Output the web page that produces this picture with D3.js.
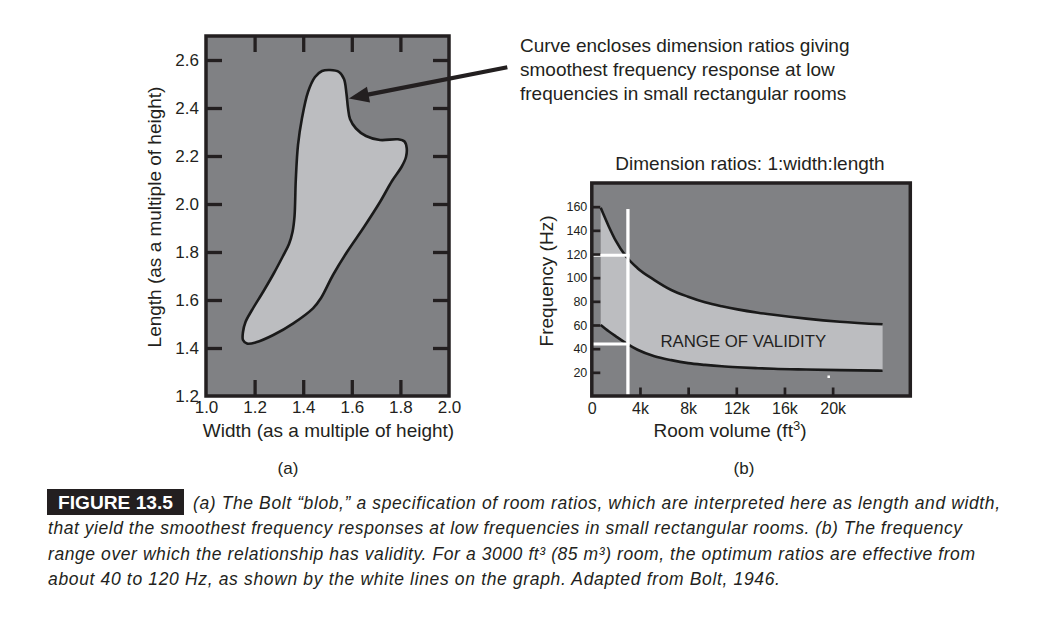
<!DOCTYPE html>
<html><head><meta charset="utf-8">
<script src="https://cdn.jsdelivr.net/npm/d3@7/dist/d3.min.js"></script>
<style>
html,body{margin:0;padding:0;background:#fff}
svg{display:block}
text{font-family:"Liberation Sans",Arial,Helvetica,sans-serif;fill:#231f20}
</style></head><body>
<svg id="chart" width="1059" height="629"></svg>
<script>
// ---------- Panel (a): Bolt blob (width, length as multiples of height) ----------
const blobWidth  = [1.5103,1.5473,1.5679,1.5782,1.5844,1.5926,1.6173,1.6584,1.7160,1.7901,1.8169,1.8259,1.8230,1.8045,1.7654,1.7160,1.6502,1.5802,1.5226,1.4733,1.4403,1.3593,1.2770,1.2058,1.1687,1.1523,1.1523,1.1626,1.1893,1.2346,1.2798,1.3169,1.3416,1.3560,1.3642,1.3695,1.3786,1.3951,1.4198,1.4486,1.4774];
const blobLength = [2.5583,2.5500,2.5208,2.4583,2.4000,2.3542,2.3146,2.2833,2.2667,2.2696,2.2604,2.2333,2.1958,2.1542,2.0958,2.0083,1.9042,1.8000,1.7042,1.6083,1.5654,1.5029,1.4542,1.4238,1.4188,1.4333,1.4667,1.5083,1.5583,1.6333,1.7125,1.7833,1.8333,1.8833,1.9471,2.1000,2.2458,2.3583,2.4667,2.5292,2.5542];
const aXTicks = [1.0,1.2,1.4,1.6,1.8,2.0];
const aYTicks = [1.2,1.4,1.6,1.8,2.0,2.2,2.4,2.6];
const aInnerX = [1.2,1.4,1.6,1.8];
const aInnerY = [1.4,1.6,1.8,2.0,2.2,2.4,2.6];
const aNote = ["Curve encloses dimension ratios giving","smoothest frequency response at low","frequencies in small rectangular rooms"];

// ---------- Panel (b): range of validity ----------
const volumeFt3 = [740,1400,2000,2800,3800,5200,6600,8000,9400,10800,12100,13800,15100,17800,20600,24150];
const upperHz   = [159,143.5,131,118.5,108,98,89.6,83.9,79.2,75.8,73.2,70.4,68.6,65.4,62.8,60.6];
const lowerHz   = [60,54.7,50.4,44.9,39.1,33.6,30.3,27.8,26.3,25.1,24.3,23.5,23.0,22.4,21.9,21.4];
const markVolume = 3000;
const markHz = [44,119];
const markTopHz = 158;
const bXTicks = [0,4000,8000,12000,16000,20000];
const bXLabels = ["0","4k","8k","12k","16k","20k"];
const bYTicks = [20,40,60,80,100,120,140,160];

const captionLines = [
  "(a) The Bolt \u201Cblob,\u201D a specification of room ratios, which are interpreted here as length and width,",
  "that yield the smoothest frequency responses at low frequencies in small rectangular rooms. (b) The frequency",
  "range over which the relationship has validity. For a 3000 ft\u00B3 (85 m\u00B3) room, the optimum ratios are effective from",
  "about 40 to 120 Hz, as shown by the white lines on the graph. Adapted from Bolt, 1946."
];

const ink = "#231f20", bg = "#808184", light = "#bcbdc0";
const FONT = '"Liberation Sans",Arial,Helvetica,sans-serif';
const svg = d3.select("#chart");

// ===== Panel (a) =====
const xa = d3.scaleLinear().domain([1.0,2.0]).range([206,449]);
const ya = d3.scaleLinear().domain([1.2,2.7]).range([396,36]);
const ga = svg.append("g");
ga.append("rect").attr("x",xa(1)).attr("y",ya(2.7))
  .attr("width",xa(2)-xa(1)).attr("height",ya(1.2)-ya(2.7)).attr("fill",bg);

const blobPts = blobWidth.map((w,i)=>[xa(w), ya(blobLength[i])]);
ga.append("path").attr("d", d3.line().curve(d3.curveCatmullRomClosed.alpha(0.5))(blobPts))
  .attr("fill",light).attr("stroke","#1a1a1a").attr("stroke-width",2.6);

function styleAxis(g, fs, sw){
  g.attr("font-size",fs).attr("font-family",FONT).attr("color",ink);
  g.select(".domain").remove();
  g.selectAll(".tick line").attr("stroke",ink).attr("stroke-width",sw);
  g.selectAll(".tick text").attr("fill",ink);
}
// left
const aLeft = ga.append("g").attr("transform",`translate(${xa(1)},0)`)
  .call(d3.axisLeft(ya).tickValues(aYTicks).tickFormat(d3.format(".1f")).tickSizeInner(-16).tickSizeOuter(0).tickPadding(7));
styleAxis(aLeft,17,3.3);
aLeft.selectAll(".tick line").filter(d=>!aInnerY.includes(d)).remove();
// right
const aRight = ga.append("g").attr("transform",`translate(${xa(2)},0)`)
  .call(d3.axisRight(ya).tickValues(aInnerY).tickFormat("").tickSizeInner(-16).tickSizeOuter(0));
styleAxis(aRight,17,3.3);
// top
const aTop = ga.append("g").attr("transform",`translate(0,${ya(2.7)})`)
  .call(d3.axisTop(xa).tickValues(aInnerX).tickFormat("").tickSizeInner(-16).tickSizeOuter(0));
styleAxis(aTop,17,3.3);
// bottom
const aBottom = ga.append("g").attr("transform",`translate(0,${ya(1.2)})`)
  .call(d3.axisBottom(xa).tickValues(aXTicks).tickFormat(d3.format(".1f")).tickSizeInner(-16).tickSizeOuter(0).tickPadding(5));
styleAxis(aBottom,17,3.3);
aBottom.selectAll(".tick line").filter(d=>!aInnerX.includes(d)).remove();

ga.append("rect").attr("x",xa(1)).attr("y",ya(2.7))
  .attr("width",xa(2)-xa(1)).attr("height",ya(1.2)-ya(2.7))
  .attr("fill","none").attr("stroke",ink).attr("stroke-width",3.5);

// axis titles (a)
ga.append("text").attr("x",(xa(1)+xa(2))/2+1).attr("y",437).attr("text-anchor","middle")
  .attr("font-size",19).text("Width (as a multiple of height)");
ga.append("text").attr("transform",`translate(161,${(ya(1.4)+ya(2.6))/2+13}) rotate(-90)`)
  .attr("text-anchor","middle").attr("font-size",19).text("Length (as a multiple of height)");
ga.append("text").attr("x",288).attr("y",474).attr("text-anchor","middle").attr("font-size",17).text("(a)");

// annotation arrow
const tip = [xa(1.588), ya(2.44)], tail = [xa(2.24), ya(2.57)];
{
  const dx = tip[0]-tail[0], dy = tip[1]-tail[1], len = Math.hypot(dx,dy);
  const ux = dx/len, uy = dy/len, nx = -uy, ny = ux;
  const L = 20, W = 8;
  const bx = tip[0]-ux*L, by = tip[1]-uy*L;
  ga.append("line").attr("x1",tail[0]).attr("y1",tail[1]).attr("x2",bx+ux*2).attr("y2",by+uy*2)
    .attr("stroke",ink).attr("stroke-width",4.2);
  ga.append("path").attr("d",`M${tip[0]},${tip[1]}L${bx+nx*W},${by+ny*W}L${bx-nx*W},${by-ny*W}Z`).attr("fill",ink);
}
aNote.forEach((t,i)=>{
  ga.append("text").attr("x",520).attr("y",52+i*24).attr("font-size",19).text(t);
});

// ===== Panel (b) =====
const xb = d3.scaleLinear().domain([0,26450]).range([591.8,910.3]);
const yb = d3.scaleLinear().domain([0,180]).range([396,183]);
const gb = svg.append("g");
gb.append("rect").attr("x",xb(0)).attr("y",yb(180))
  .attr("width",xb(26450)-xb(0)).attr("height",yb(0)-yb(180)).attr("fill",bg);

const bandData = volumeFt3.map((v,i)=>({v, lo:lowerHz[i], hi:upperHz[i]}));
gb.append("path").datum(bandData)
  .attr("d", d3.area().curve(d3.curveMonotoneX).x(d=>xb(d.v)).y0(d=>yb(d.lo)).y1(d=>yb(d.hi)))
  .attr("fill",light);
const lineU = d3.line().curve(d3.curveMonotoneX).x(d=>xb(d.v)).y(d=>yb(d.hi));
const lineL = d3.line().curve(d3.curveMonotoneX).x(d=>xb(d.v)).y(d=>yb(d.lo));
gb.append("path").datum(bandData).attr("d",lineU).attr("fill","none").attr("stroke","#1a1a1a").attr("stroke-width",2.6);
gb.append("path").datum(bandData).attr("d",lineL).attr("fill","none").attr("stroke","#1a1a1a").attr("stroke-width",2.6);

gb.append("text").attr("x",xb(5700)).attr("y",yb(41.5)).attr("font-size",16.8).text("RANGE OF VALIDITY");

// white guide lines
gb.append("line").attr("x1",xb(markVolume)).attr("x2",xb(markVolume)).attr("y1",yb(markTopHz)).attr("y2",yb(0))
  .attr("stroke","#fff").attr("stroke-width",3.3);
markHz.forEach(h=>{
  gb.append("line").attr("x1",xb(0)).attr("x2",xb(markVolume)+1.6).attr("y1",yb(h)).attr("y2",yb(h))
    .attr("stroke","#fff").attr("stroke-width",3);
});
gb.append("rect").attr("x",xb(19670)-1.2).attr("y",yb(16.3)-1.2).attr("width",2.5).attr("height",2.5).attr("fill","#fff");

const bLeft = gb.append("g").attr("transform",`translate(${xb(0)},0)`)
  .call(d3.axisLeft(yb).tickValues(bYTicks).tickSizeInner(-8.5).tickSizeOuter(0).tickPadding(4.5));
styleAxis(bLeft,12.5,2.7);
const bBottom = gb.append("g").attr("transform",`translate(0,${yb(0)})`)
  .call(d3.axisBottom(xb).tickValues(bXTicks).tickFormat((d,i)=>bXLabels[i]).tickSizeInner(-8.5).tickSizeOuter(0).tickPadding(6.5));
styleAxis(bBottom,16,2.7);
bBottom.selectAll(".tick line").filter(d=>d===0).remove();

gb.append("rect").attr("x",xb(0)).attr("y",yb(180))
  .attr("width",xb(26450)-xb(0)).attr("height",yb(0)-yb(180))
  .attr("fill","none").attr("stroke",ink).attr("stroke-width",3.5);

gb.append("text").attr("x",750).attr("y",170).attr("text-anchor","middle").attr("font-size",19)
  .text("Dimension ratios: 1:width:length");
const rv = gb.append("text").attr("x",730).attr("y",437).attr("text-anchor","middle").attr("font-size",19);
rv.append("tspan").text("Room volume (ft");
rv.append("tspan").attr("font-size",13).attr("dy",-7).text("3");
rv.append("tspan").attr("dy",7).text(")");
gb.append("text").attr("transform",`translate(553,281) rotate(-90)`).attr("text-anchor","middle")
  .attr("font-size",19).text("Frequency (Hz)");
gb.append("text").attr("x",744).attr("y",474).attr("text-anchor","middle").attr("font-size",17).text("(b)");

// ===== Caption =====
const gc = svg.append("g");
gc.append("rect").attr("x",47).attr("y",489).attr("width",137).attr("height",26).attr("fill",ink);
gc.append("text").attr("x",58).attr("y",509).attr("font-size",17.5).attr("font-weight","bold")
  .style("fill","#fff").attr("textLength",115).attr("lengthAdjust","spacingAndGlyphs").text("FIGURE 13.5");
const capX = [193,48,48,48], capW = [807,914,927,732];
captionLines.forEach((t,i)=>{
  gc.append("text").attr("x",capX[i]).attr("y",509+i*25.3).attr("font-size",17.5)
    .attr("font-style","italic").attr("textLength",capW[i]).attr("lengthAdjust","spacing").text(t);
});
</script></body></html>
